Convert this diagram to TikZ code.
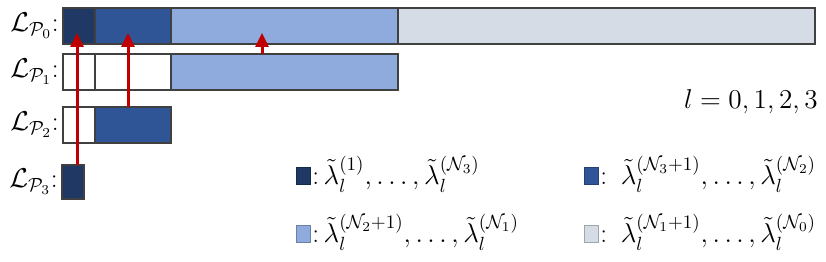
\documentclass[tikz,border=0pt]{standalone}
\usepackage{fix-cm}
\usepackage{amsmath,amssymb}
\usepackage{tikz}
\usetikzlibrary{arrows.meta,positioning}
\usepackage{xcolor}
\definecolor{navy}{HTML}{1F3864}
\definecolor{midblue}{HTML}{2F5597}
\definecolor{lightblue}{HTML}{8FAADC}
\definecolor{paleblue}{HTML}{D6DCE5}
\definecolor{arrowred}{HTML}{C00000}
\definecolor{edgegray}{HTML}{404040}

\begin{document}
\begin{tikzpicture}[x=0.2mm,y=-0.2mm,font=\fontsize{15.5}{18}\selectfont,
  seg/.style={draw=edgegray,line width=0.8pt,inner sep=0pt,outer sep=0pt,minimum height=7.2mm,anchor=west},
  key/.style={draw=#1!75!black,fill=#1,line width=0.5pt,inner sep=0pt,outer sep=0pt,minimum width=2.8mm,minimum height=3.4mm},
  keytext/.style={anchor=base west,inner sep=0pt,xshift=0.4mm},
  up/.style={arrowred,line width=0.6mm,-{Triangle[width=2.6mm,length=2.8mm]}}]
  \useasboundingbox (0,0) rectangle (826,262);
  \node[seg,fill=navy,minimum width=6.4mm,anchor=north west] (p0a) at (63,8) {};
  \node[seg,fill=midblue,minimum width=15.2mm,right=0pt of p0a] (p0b) {};
  \node[seg,fill=lightblue,minimum width=45.4mm,right=0pt of p0b] (p0c) {};
  \node[seg,fill=paleblue,minimum width=83.4mm,right=0pt of p0c] (p0d) {};
  \node[seg,fill=white,minimum width=6.4mm,anchor=north west] (p1a) at (63,54) {};
  \node[seg,fill=white,minimum width=15.2mm,right=0pt of p1a] (p1b) {};
  \node[seg,fill=lightblue,minimum width=45.4mm,right=0pt of p1b] (p1c) {};
  \node[seg,fill=white,minimum width=6.4mm,anchor=north west] (p2a) at (63,107) {};
  \node[seg,fill=midblue,minimum width=15.2mm,right=0pt of p2a] (p2b) {};
  \node[seg,fill=navy,minimum width=4.4mm,minimum height=6.8mm,anchor=north west] (p3a) at (62,165) {};
  \foreach \i in {0,...,3}
    \node[left=0.8mm of p\i a,inner sep=0pt] (lab\i) {$\mathcal{L}_{\mathcal{P}_\i}$:};
  \coordinate (tipA) at (77,33);
  \coordinate (tipB) at (128,33);
  \coordinate (tipC) at (262,33);
  \draw[up] (tipA |- p3a.north) -- (tipA);
  \draw[up] (tipB |- p2b.north) -- (tipB);
  \draw[up] (tipC |- p1c.north) -- (tipC);
  \node[anchor=base east,inner sep=0pt] (lrange) at (818,109) {$l=0,1,2,3$};
  \node[key=navy] (k1) at (303,176) {};
  \node[keytext] (k1txt) at (k1.south east) {:\,$\tilde{\lambda}_l^{(1)},\dots,\tilde{\lambda}_l^{(\mathcal{N}_3)}$};
  \node[key=midblue] (k2) at (591,176) {};
  \node[keytext] (k2txt) at (k2.south east) {:\hspace{0.5em}$\tilde{\lambda}_l^{(\mathcal{N}_3+1)},\dots,\tilde{\lambda}_l^{(\mathcal{N}_2)}$};
  \node[key=lightblue] (k3) at (303,234) {};
  \node[keytext] (k3txt) at (k3.south east) {:\,$\tilde{\lambda}_l^{(\mathcal{N}_2+1)},\dots,\tilde{\lambda}_l^{(\mathcal{N}_1)}$};
  \node[key=paleblue] (k4) at (591,234) {};
  \node[keytext] (k4txt) at (k4.south east) {:\hspace{0.5em}$\tilde{\lambda}_l^{(\mathcal{N}_1+1)},\dots,\tilde{\lambda}_l^{(\mathcal{N}_0)}$};
\end{tikzpicture}
\end{document}
